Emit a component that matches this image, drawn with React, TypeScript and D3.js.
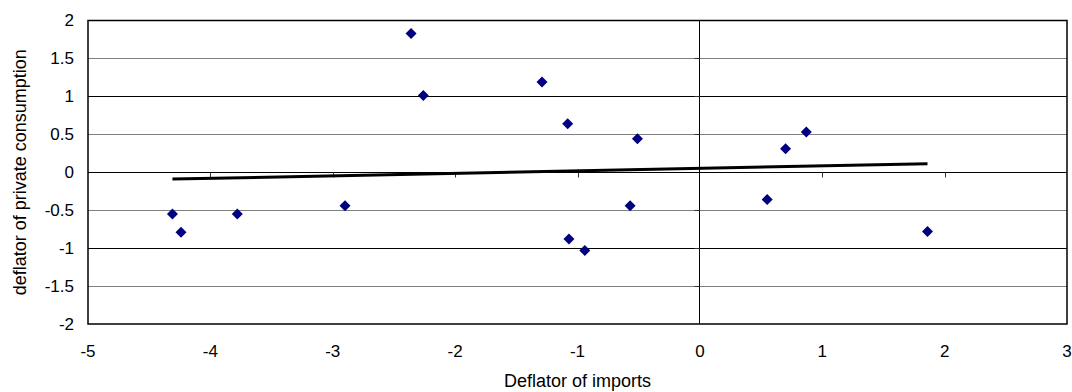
import { useRef, useEffect } from "react";
import * as d3 from "d3";

// deflator of imports (x) vs deflator of private consumption (y)
const importsDeflator = [
  -2.36, -2.26, -1.29, -1.08, -0.51, 0.7, 0.87, 0.55, 1.86, -0.57, -1.07,
  -0.94, -2.9, -4.31, -4.24, -3.78,
];
const consumptionDeflator = [
  1.83, 1.01, 1.19, 0.64, 0.44, 0.31, 0.53, -0.36, -0.78, -0.44, -0.88,
  -1.03, -0.44, -0.55, -0.79, -0.55,
];

// linear trend as drawn in the chart (end points)
const trendX = [-4.31, 1.86];
const trendY = [-0.09, 0.112];

const xTicks = [-5, -4, -3, -2, -1, 0, 1, 2, 3];
const yTicks = [2, 1.5, 1, 0.5, 0, -0.5, -1, -1.5, -2];

const xTitle = "Deflator of imports";
const yTitle = "deflator of private consumption";

const App = () => {
  const svgRef = useRef<SVGSVGElement | null>(null);

  useEffect(() => {
    const svg = d3.select(svgRef.current);
    svg.selectAll("*").remove();

    const left = 88;
    const right = 1067;
    const top = 20.5;
    const bottom = 324;

    const x = d3.scaleLinear().domain([-5, 3]).range([left, right]);
    const y = d3.scaleLinear().domain([-2, 2]).range([bottom, top]);

    const font = "'Liberation Sans', Arial, sans-serif";

    // gridlines
    svg
      .append("g")
      .selectAll("line")
      .data(yTicks.filter((d) => d !== 2 && d !== -2 && d !== 0))
      .enter()
      .append("line")
      .attr("x1", left)
      .attr("x2", right)
      .attr("y1", (d) => Math.round(y(d)) + 0.5)
      .attr("y2", (d) => Math.round(y(d)) + 0.5)
      .attr("stroke", (d) => (Number.isInteger(d) ? "#000" : "#808080"))
      .attr("stroke-width", 1);

    // horizontal axis through y = 0
    const y0 = Math.round(y(0)) + 0.5;
    svg
      .append("line")
      .attr("x1", left)
      .attr("x2", right)
      .attr("y1", y0)
      .attr("y2", y0)
      .attr("stroke", "#000");

    svg
      .append("g")
      .selectAll("line")
      .data(xTicks.filter((d) => d !== -5 && d !== 3 && d !== 0))
      .enter()
      .append("line")
      .attr("x1", (d) => Math.round(x(d)) + 0.5)
      .attr("x2", (d) => Math.round(x(d)) + 0.5)
      .attr("y1", y0)
      .attr("y2", y0 + 5)
      .attr("stroke", "#333");

    // vertical axis through x = 0
    const x0 = Math.round(x(0)) - 0.5;
    svg
      .append("line")
      .attr("x1", x0)
      .attr("x2", x0)
      .attr("y1", top)
      .attr("y2", bottom)
      .attr("stroke", "#000");

    svg
      .append("g")
      .selectAll("line")
      .data(yTicks.filter((d) => d !== 2 && d !== -2 && d !== 0))
      .enter()
      .append("line")
      .attr("x1", x0 - 5)
      .attr("x2", x0)
      .attr("y1", (d) => Math.round(y(d)) + 0.5)
      .attr("y2", (d) => Math.round(y(d)) + 0.5)
      .attr("stroke", "#333");

    // plot area frame
    svg
      .append("rect")
      .attr("x", left)
      .attr("y", top)
      .attr("width", right - left)
      .attr("height", bottom - top)
      .attr("fill", "none")
      .attr("stroke", "#000")
      .attr("stroke-width", 1.5);

    // trend line
    svg
      .append("path")
      .datum(trendX.map((v, i) => [v, trendY[i]] as [number, number]))
      .attr(
        "d",
        d3
          .line<[number, number]>()
          .x((d) => x(d[0]))
          .y((d) => y(d[1]))
      )
      .attr("fill", "none")
      .attr("stroke", "#000")
      .attr("stroke-width", 3);

    // points
    svg
      .append("g")
      .selectAll("path")
      .data(importsDeflator)
      .enter()
      .append("path")
      .attr("transform", (d, i) => `translate(${x(d)},${y(consumptionDeflator[i])})`)
      .attr("d", "M0,-5.5L5.5,0L0,5.5L-5.5,0Z")
      .attr("fill", "#000080");

    // y tick labels
    svg
      .append("g")
      .selectAll("text")
      .data(yTicks)
      .enter()
      .append("text")
      .attr("x", 74)
      .attr("y", (d) => y(d))
      .attr("dy", "0.35em")
      .attr("text-anchor", "end")
      .style("font-family", font)
      .style("font-size", "17px")
      .text((d) => d);

    // x tick labels
    svg
      .append("g")
      .selectAll("text")
      .data(xTicks)
      .enter()
      .append("text")
      .attr("x", (d) => x(d))
      .attr("y", 357)
      .attr("text-anchor", "middle")
      .style("font-family", font)
      .style("font-size", "17px")
      .text((d) => d);

    svg
      .append("text")
      .attr("x", (left + right) / 2)
      .attr("y", 387)
      .attr("text-anchor", "middle")
      .style("font-family", font)
      .style("font-size", "18px")
      .text(xTitle);

    svg
      .append("text")
      .attr("transform", `translate(26,${(top + bottom) / 2}) rotate(-90)`)
      .attr("text-anchor", "middle")
      .style("font-family", font)
      .style("font-size", "18px")
      .text(yTitle);
  }, []);

  return (
    <div style={{ position: "absolute", left: 0, top: 0 }}>
      <svg ref={svgRef} width="1072" height="392" style={{ display: "block", background: "#fff" }}></svg>
    </div>
  );
};

export default App;
